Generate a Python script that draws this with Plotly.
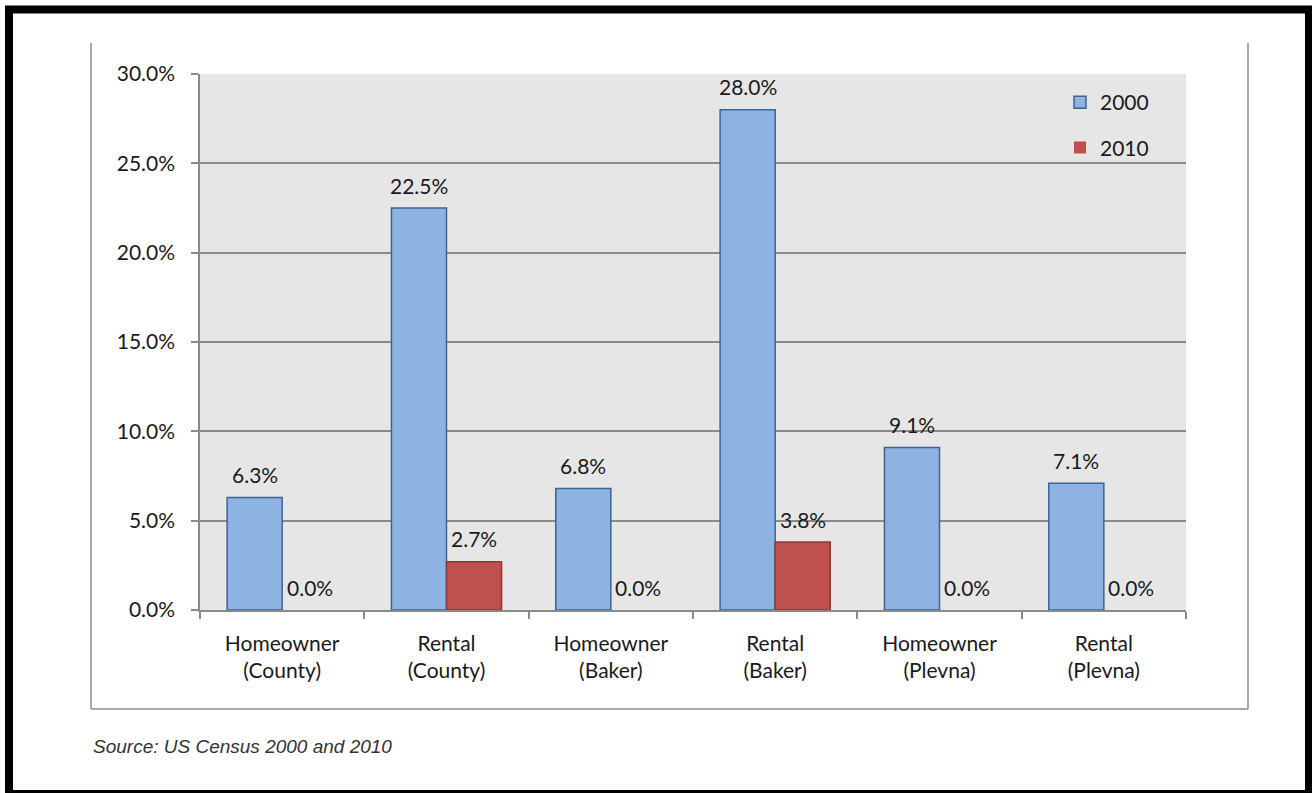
import plotly.graph_objects as go

categories = ["Homeowner<br>(County)", "Rental<br>(County)", "Homeowner<br>(Baker)",
              "Rental<br>(Baker)", "Homeowner<br>(Plevna)", "Rental<br>(Plevna)"]
vals_2000 = [0.063, 0.225, 0.068, 0.280, 0.091, 0.071]
vals_2010 = [0.000, 0.027, 0.000, 0.038, 0.000, 0.000]
series_names = ["2000", "2010"]
y_ticks = [0.0, 0.05, 0.10, 0.15, 0.20, 0.25, 0.30]

W, H = 1312, 793
PL, PR, PT, PB = 200, 1186, 74, 610  # plot area pixels
FONT = "Lato, 'DejaVu Sans', sans-serif"
TXT = "#1a1a1a"
GRID = "#8a8a8a"
FS = 21

BARGAP = 0.33
cat_w = (PR - PL) / len(categories)
bar_w = cat_w * (1 - BARGAP) / 2


def edge_widths(vals):
    return [1.5 if v > 0 else 0 for v in vals]


fig = go.Figure()
fig.add_trace(go.Bar(x=categories, y=vals_2000, name=series_names[0], legendgroup="a",
                     marker=dict(color="#8db3e2",
                                 line=dict(color="#3d6390", width=edge_widths(vals_2000)))))
fig.add_trace(go.Bar(x=categories, y=vals_2010, name=series_names[1], legendgroup="b",
                     marker=dict(color="#c0504d",
                                 line=dict(color="#8b3a38", width=edge_widths(vals_2010)))))

annotations = []
for vals, sh in ((vals_2000, -bar_w / 2), (vals_2010, bar_w / 2)):
    for c, v in zip(categories, vals):
        annotations.append(dict(x=c, y=v, xref="x", yref="y", text=f"{v*100:.1f}%",
                                showarrow=False, xshift=sh, yshift=23, yanchor="middle",
                                font=dict(family=FONT, size=FS, color=TXT)))


def px(x):
    return (x - PL) / (PR - PL)


def py(y):
    return (PB - y) / (PB - PT)


annotations.append(dict(x=px(91), y=py(746), xref="paper", yref="paper", xanchor="left",
                        yanchor="middle", showarrow=False,
                        text="<i>Source: US Census 2000 and 2010</i>",
                        font=dict(family="'Liberation Sans', Arial, sans-serif", size=19,
                                  color="#333333")))

shapes = [
    dict(type="rect", xref="paper", yref="paper", x0=px(9), x1=px(1309), y0=py(9.5), y1=py(794),
         line=dict(color="black", width=8), layer="above"),
    dict(type="line", xref="paper", yref="paper", x0=px(91), x1=px(91), y0=py(43), y1=py(709),
         line=dict(color="#8c8c8c", width=1.5)),
    dict(type="line", xref="paper", yref="paper", x0=px(1248), x1=px(1248), y0=py(43), y1=py(709),
         line=dict(color="#8c8c8c", width=1.5)),
    dict(type="line", xref="paper", yref="paper", x0=px(91), x1=px(1248), y0=py(709), y1=py(709),
         line=dict(color="#8c8c8c", width=1.5)),
]

fig.update_layout(
    width=W, height=H,
    margin=dict(l=PL, r=W - PR, t=PT, b=H - PB, pad=0),
    paper_bgcolor="white", plot_bgcolor="#e6e6e6",
    barmode="group", bargap=BARGAP, bargroupgap=0,
    font=dict(family=FONT, size=FS, color=TXT),
    showlegend=True,
    legend=dict(x=px(1060), y=py(82), xanchor="left", yanchor="top", bgcolor="rgba(0,0,0,0)",
                font=dict(family=FONT, size=FS, color=TXT), traceorder="grouped",
                tracegroupgap=15, itemwidth=30),
    annotations=annotations, shapes=shapes,
    xaxis=dict(type="category", showgrid=False, showline=True, linecolor=GRID, linewidth=1.5,
               ticks="outside", tickson="boundaries", ticklen=7, tickcolor=GRID, tickwidth=1.5,
               ticklabelstandoff=14,
               tickfont=dict(family=FONT, size=FS, color=TXT)),
    yaxis=dict(range=[0, 0.30], tickvals=y_ticks, tickformat=".1%", showgrid=True, gridcolor=GRID,
               gridwidth=1.5, showline=True, linecolor=GRID, linewidth=1.5, ticks="outside",
               ticklen=7, tickcolor=GRID, tickwidth=1.5, zeroline=False, ticklabelstandoff=12,
               tickfont=dict(family=FONT, size=FS, color=TXT)),
)

fig.write_html("out.html")
